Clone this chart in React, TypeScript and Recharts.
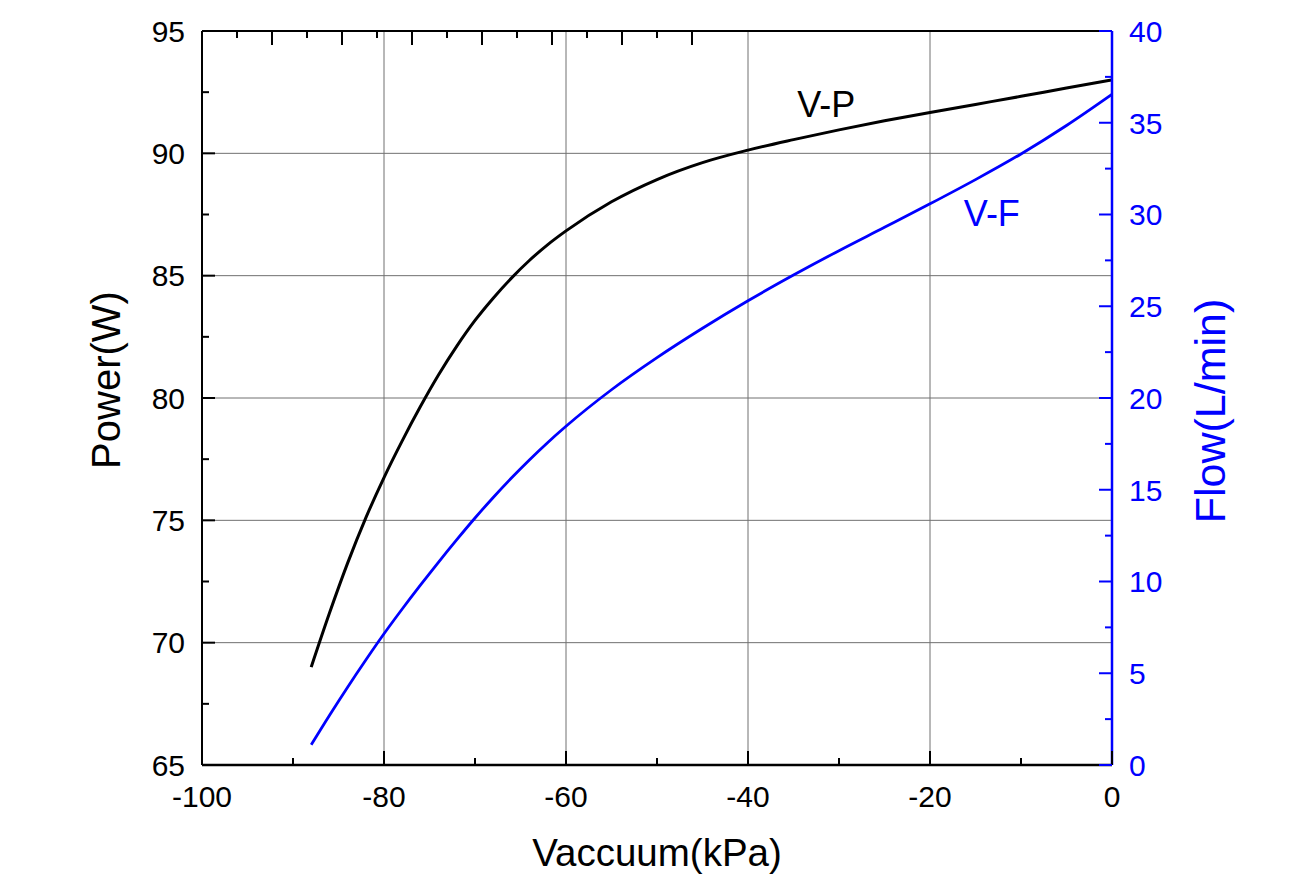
import React from 'react';
import { LineChart, Line, XAxis, YAxis, CartesianGrid, ReferenceDot, Label } from 'recharts';

// ---- data ----
const vacuum = [-88, -86, -84, -82, -80, -78, -76, -74, -72, -70, -68, -66, -64, -62, -60, -55, -50, -45, -40, -35, -30, -25, -20, -15, -10, -5, 0];
const power = [69.0, 71.2, 73.25, 75.1, 76.75, 78.25, 79.65, 80.95, 82.12, 83.17, 84.08, 84.9, 85.63, 86.27, 86.83, 88.02, 88.93, 89.62, 90.13, 90.56, 90.96, 91.33, 91.67, 92.0, 92.33, 92.67, 93.0];
const flow = [1.1, 2.7, 4.24, 5.72, 7.15, 8.5, 9.8, 11.06, 12.28, 13.46, 14.58, 15.64, 16.64, 17.58, 18.46, 20.45, 22.2, 23.8, 25.3, 26.7, 28.03, 29.3, 30.58, 31.9, 33.3, 34.85, 36.55];

const xTicks = [-100, -90, -80, -70, -60, -50, -40, -30, -20, -10, 0];
const leftTicks = [65, 67.5, 70, 72.5, 75, 77.5, 80, 82.5, 85, 87.5, 90, 92.5, 95];
const rightTicks = [0, 2.5, 5, 7.5, 10, 12.5, 15, 17.5, 20, 22.5, 25, 27.5, 30, 32.5, 35, 37.5, 40];
const topTicks = [0, 1, 2, 3, 4, 5, 6, 7, 8, 9, 10, 11, 12, 13, 14];
const gridX = [-80, -60, -40, -20];
const gridY = [70, 75, 80, 85, 90];

const vpLabel = { x: -31.4, y: 91.5, text: 'V-P' };
const vfLabel = { x: -13.2, y: 29.4, text: 'V-F' };

const table = vacuum.map((v, i) => ({ v, p: power[i], f: flow[i] }));

const FONT = '"Liberation Sans", Arial, Helvetica, sans-serif';
const BLUE = '#0000ff';

function LeftTick(props: any) {
  const { x, y, payload } = props;
  const v = payload.value;
  const major = v % 5 === 0;
  return (
    <g>
      <line x1={x} x2={x + (major ? 13 : 7)} y1={y} y2={y} stroke="#000" strokeWidth={2} />
      {major && (
        <text x={x - 17} y={y} dy="0.36em" textAnchor="end" fontSize={30} fill="#000" fontFamily={FONT}>
          {v}
        </text>
      )}
    </g>
  );
}

function RightTick(props: any) {
  const { x, y, payload } = props;
  const v = payload.value;
  const major = v % 5 === 0;
  return (
    <g>
      <line x1={x} x2={x - (major ? 13 : 7)} y1={y} y2={y} stroke={BLUE} strokeWidth={2} />
      {major && (
        <text x={x + 17} y={y} dy="0.36em" textAnchor="start" fontSize={30} fill={BLUE} fontFamily={FONT}>
          {v}
        </text>
      )}
    </g>
  );
}

function BottomTick(props: any) {
  const { x, y, payload } = props;
  const v = payload.value;
  const major = v % 20 === 0;
  return (
    <g>
      <line x1={x} x2={x} y1={y} y2={y - (major ? 14 : 7)} stroke="#000" strokeWidth={2} />
      {major && (
        <text x={x} y={y + 42} textAnchor="middle" fontSize={30} fill="#000" fontFamily={FONT}>
          {v}
        </text>
      )}
    </g>
  );
}

function TopTick(props: any) {
  const { x, y, payload } = props;
  const v = payload.value;
  const major = v % 2 === 0;
  return <line x1={x} x2={x} y1={y} y2={y + (major ? 14 : 7)} stroke="#000" strokeWidth={2} />;
}

export default function App() {
  return (
    <div style={{ width: 1290, height: 875 }}>
      <LineChart width={1290} height={875} data={table} margin={{ top: 22, right: 86, bottom: 18, left: 94 }}>
        <XAxis
          xAxisId="top"
          orientation="top"
          type="number"
          domain={[0, 14]}
          ticks={topTicks}
          interval={0}
          height={1}
          tickSize={0}
          tickMargin={0}
          tick={<TopTick />}
          axisLine={{ stroke: '#000', strokeWidth: 2 }}
          tickLine={false}
          allowDataOverflow
        />
        <XAxis
          xAxisId="bottom"
          dataKey="v"
          type="number"
          domain={[-100, 0]}
          ticks={xTicks}
          interval={0}
          height={100}
          tickSize={0}
          tickMargin={0}
          tick={<BottomTick />}
          axisLine={{ stroke: '#000', strokeWidth: 2.5 }}
          tickLine={false}
          allowDataOverflow
        >
          <Label
            content={(p: any) => {
              const vb = p.viewBox;
              return (
                <text x={vb.x + vb.width / 2} y={vb.y + 101} textAnchor="middle" fontSize={38.5} fill="#000" fontFamily={FONT}>
                  Vaccuum(kPa)
                </text>
              );
            }}
          />
        </XAxis>
        <YAxis
          yAxisId="left"
          orientation="left"
          type="number"
          domain={[65, 95]}
          ticks={leftTicks}
          interval={0}
          width={100}
          tickSize={0}
          tickMargin={0}
          tick={<LeftTick />}
          axisLine={{ stroke: '#000', strokeWidth: 2 }}
          tickLine={false}
          allowDataOverflow
        >
          <Label
            content={(p: any) => {
              const vb = p.viewBox;
              const cx = vb.x + vb.width - 96;
              const cy = vb.y + 349;
              return (
                <text x={cx} y={cy} dy="0.36em" textAnchor="middle" fontSize={40} fill="#000" fontFamily={FONT} transform={`rotate(-90 ${cx} ${cy})`}>
                  Power(W)
                </text>
              );
            }}
          />
        </YAxis>
        <YAxis
          yAxisId="right"
          orientation="right"
          type="number"
          domain={[0, 40]}
          ticks={rightTicks}
          interval={0}
          width={100}
          tickSize={0}
          tickMargin={0}
          tick={<RightTick />}
          axisLine={{ stroke: BLUE, strokeWidth: 2.5 }}
          tickLine={false}
          allowDataOverflow
        >
          <Label
            content={(p: any) => {
              const vb = p.viewBox;
              const cx = vb.x + 98;
              const cy = vb.y + 380;
              return (
                <text x={cx} y={cy} dy="0.36em" textAnchor="middle" fontSize={43} fill={BLUE} fontFamily={FONT} transform={`rotate(-90 ${cx} ${cy})`}>
                  Flow(L/min)
                </text>
              );
            }}
          />
        </YAxis>
        <CartesianGrid
          xAxisId="bottom"
          yAxisId="left"
          horizontalValues={gridY}
          verticalValues={gridX}
          stroke="#707070"
          strokeWidth={1}
          strokeDasharray=""
        />
        <Line
          xAxisId="bottom"
          yAxisId="left"
          dataKey="p"
          type="monotone"
          stroke="#000"
          strokeWidth={3}
          dot={false}
          activeDot={false}
          isAnimationActive={false}
        />
        <Line
          xAxisId="bottom"
          yAxisId="right"
          dataKey="f"
          type="monotone"
          stroke={BLUE}
          strokeWidth={2.8}
          dot={false}
          activeDot={false}
          isAnimationActive={false}
        />
        <ReferenceDot
          xAxisId="bottom"
          yAxisId="left"
          x={vpLabel.x}
          y={vpLabel.y}
          r={0}
          shape={(p: any) => (
            <text x={p.cx} y={p.cy} textAnchor="middle" fontSize={36} fill="#000" fontFamily={FONT}>
              {vpLabel.text}
            </text>
          )}
        />
        <ReferenceDot
          xAxisId="bottom"
          yAxisId="right"
          x={vfLabel.x}
          y={vfLabel.y}
          r={0}
          shape={(p: any) => (
            <text x={p.cx} y={p.cy} textAnchor="middle" fontSize={36} fill={BLUE} fontFamily={FONT}>
              {vfLabel.text}
            </text>
          )}
        />
      </LineChart>
    </div>
  );
}
